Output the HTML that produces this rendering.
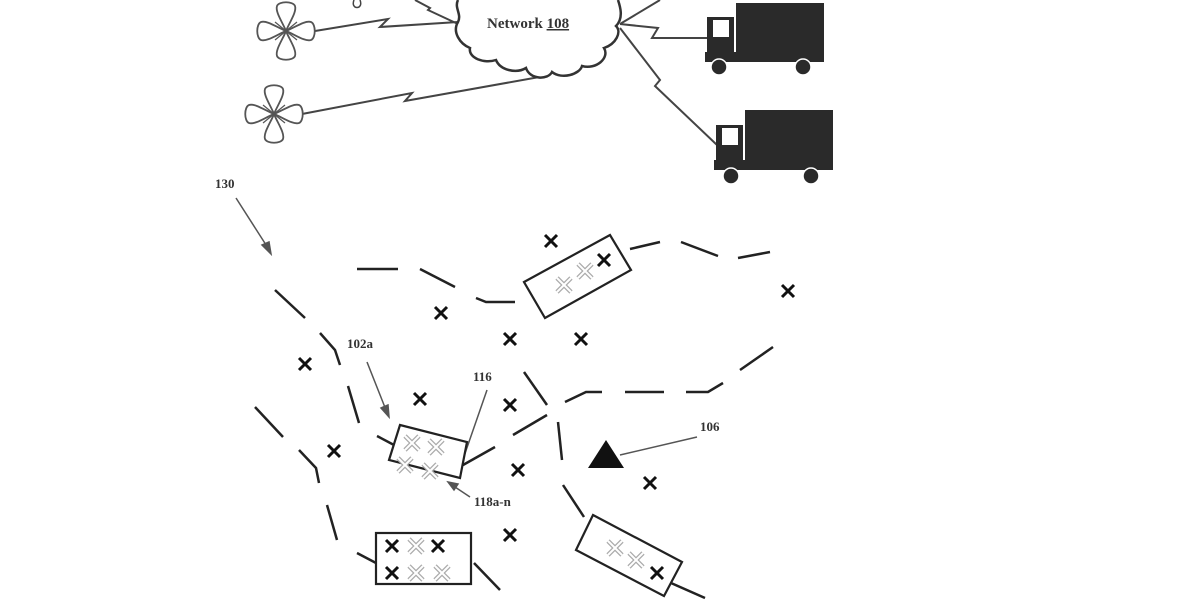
<!DOCTYPE html>
<html><head><meta charset="utf-8"><style>
html,body{margin:0;padding:0;background:#fff;}
svg{display:block}
text{font-family:"Liberation Serif",serif;font-weight:bold;fill:#333}
</style></head><body>
<svg width="1200" height="600" viewBox="0 0 1200 600" xmlns="http://www.w3.org/2000/svg">
<defs>
<g id="bx"><path d="M-6,-6 L6,6 M6,-6 L-6,6" stroke="#111" stroke-width="3"/></g>
<g id="gx"><path d="M-7,-7 L7,7 M7,-7 L-7,7" stroke="#aaa" stroke-width="4.5"/><path d="M-7,-7 L7,7 M7,-7 L-7,7" stroke="#fff" stroke-width="2"/></g>
<path id="pet" d="M0,0 C-3,-8 -11,-19 -9,-25 C-7,-30 7,-30 9,-25 C11,-19 3,-8 0,0Z"/>
<g id="fan" fill="#fff" stroke="#555" stroke-width="1.8">
<use href="#pet"/>
<use href="#pet" transform="rotate(90)"/>
<use href="#pet" transform="rotate(180)"/>
<use href="#pet" transform="rotate(270)"/>
<path d="M-11,-9 L11,9 M11,-9 L-11,9" stroke-width="1.2"/>
</g>
</defs>
<g stroke="#444" stroke-width="2" fill="none">
<path d="M315,31 L388,19 L380,27 L458,22"/>
<path d="M302,114 L412,93 L405,101 L545,76"/>
<path d="M415,0 L430,8 L428,10 L458,24"/>
<path d="M620,24 L660,0"/>
<path d="M620,24 L658,28 L652,38 L708,38"/>
<path d="M620,28 L660,80 L655,86 L717,145"/>
<path d="M354,0 C350,10 364,10 360,0" stroke-width="1.5"/>
</g>
<use href="#fan" x="286" y="31"/>
<use href="#fan" x="274" y="114"/>
<path d="M458,0 C454,8 462,14 458,22 C452,32 460,44 470,48 C468,58 484,64 496,60 C500,70 516,74 526,68 C530,80 548,80 552,72 C562,80 580,74 582,66 C596,70 610,58 604,48 C616,44 622,32 616,26 C624,18 620,6 618,0"
 fill="#fff" stroke="#333" stroke-width="2.5"/>
<text x="487" y="28" font-size="15">Network <tspan text-decoration="underline">108</tspan></text>
<g fill="#2a2a2a">
<rect x="736" y="3" width="88" height="59"/>
<rect x="707" y="17" width="27" height="45"/>
<rect x="705" y="52" width="40" height="10"/>
<circle cx="719" cy="67" r="8"/><circle cx="803" cy="67" r="8"/>
<rect x="745" y="110" width="88" height="60"/>
<rect x="716" y="125" width="27" height="45"/>
<rect x="714" y="160" width="40" height="10"/>
<circle cx="731" cy="176" r="8"/><circle cx="811" cy="176" r="8"/>
</g>
<rect x="713" y="20" width="16" height="17" fill="#fff"/>
<rect x="722" y="128" width="16" height="17" fill="#fff"/>
<circle cx="719" cy="67" r="8" fill="none" stroke="#fff" stroke-width="1.5"/><circle cx="803" cy="67" r="8" fill="none" stroke="#fff" stroke-width="1.5"/>
<circle cx="731" cy="176" r="8" fill="none" stroke="#fff" stroke-width="1.5"/><circle cx="811" cy="176" r="8" fill="none" stroke="#fff" stroke-width="1.5"/>
<text x="215" y="188" font-size="13">130</text>
<text x="347" y="348" font-size="13">102a</text>
<text x="473" y="381" font-size="13">116</text>
<text x="700" y="431" font-size="13">106</text>
<text x="474" y="506" font-size="13">118a-n</text>
<g stroke="#555" stroke-width="1.5" fill="#555">
<path d="M236,198 L268,248" fill="none"/><path d="M271,254 L262,245 L269,242Z"/>
<path d="M367,362 L386,410" fill="none"/><path d="M389,417 L381,408 L388,405Z"/>
<path d="M487,390 L462,462" fill="none"/>
<path d="M620,455 L697,437" fill="none"/>
<path d="M470,497 L452,485" fill="none"/><path d="M448,482 L458,484 L454,490Z"/>
</g>
<g stroke="#222" stroke-width="2.5" fill="none">
<path d="M357,269 L398,269"/><path d="M420,269 L455,287"/><path d="M476,298 L486,302 L515,302"/>
<path d="M630,249 L660,242"/><path d="M681,242 L718,256"/><path d="M738,258 L770,252"/>
<path d="M275,290 L305,318"/><path d="M320,333 L335,350 L340,365"/>
<path d="M348,386 L359,423"/><path d="M377,436 L394,445"/>
<path d="M255,407 L283,437"/><path d="M299,450 L316,468 L319,483"/><path d="M327,505 L337,540"/><path d="M357,553 L376,563"/>
<path d="M474,563 L500,590"/>
<path d="M524,372 L547,405"/><path d="M513,435 L547,415"/><path d="M463,465 L495,447"/>
<path d="M565,402 L586,392 L602,392"/><path d="M625,392 L664,392"/><path d="M686,392 L708,392 L723,383"/><path d="M740,370 L773,347"/>
<path d="M558,422 L562,460"/><path d="M563,485 L584,517"/>
<path d="M671,583 L705,598"/>
</g>
<g fill="#fff" stroke="#222" stroke-width="2.2">
<polygon points="524,282 610,235 631,270 545,318"/>
<polygon points="400,425 467,442 460,478 389,460"/>
<rect x="376" y="533" width="95" height="51"/>
<polygon points="593,515 682,562 664,596 576,550"/>
</g>
<use href="#gx" x="564" y="285"/><use href="#gx" x="585" y="271"/>
<use href="#gx" x="412" y="443"/><use href="#gx" x="436" y="447"/><use href="#gx" x="405" y="465"/><use href="#gx" x="430" y="471"/>
<use href="#gx" x="416" y="546"/><use href="#gx" x="416" y="573"/><use href="#gx" x="442" y="573"/>
<use href="#gx" x="615" y="548"/><use href="#gx" x="636" y="560"/>
<use href="#bx" x="551" y="241"/><use href="#bx" x="441" y="313"/><use href="#bx" x="510" y="339"/><use href="#bx" x="581" y="339"/>
<use href="#bx" x="788" y="291"/><use href="#bx" x="305" y="364"/><use href="#bx" x="420" y="399"/><use href="#bx" x="510" y="405"/>
<use href="#bx" x="334" y="451"/><use href="#bx" x="518" y="470"/><use href="#bx" x="650" y="483"/><use href="#bx" x="510" y="535"/>
<use href="#bx" x="604" y="260"/><use href="#bx" x="392" y="546"/><use href="#bx" x="438" y="546"/><use href="#bx" x="392" y="573"/>
<use href="#bx" x="657" y="573"/>
<polygon points="606,440 588,468 624,468" fill="#111"/>
</svg>
</body></html>
